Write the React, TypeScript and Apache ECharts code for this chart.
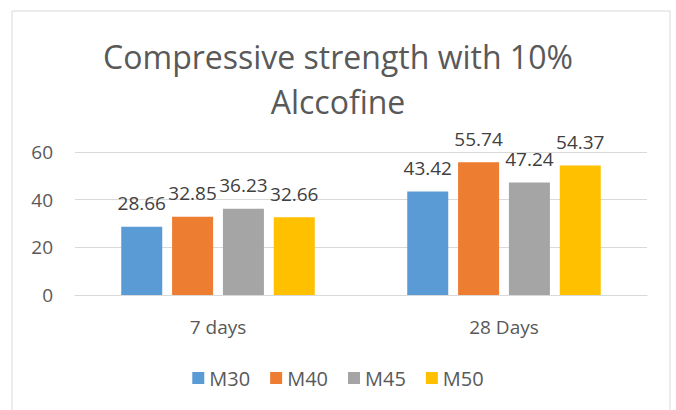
import React, { useEffect, useRef } from "react";
import * as echarts from "echarts";

const categories = ["7 days", "28 Days"];
const seriesNames = ["M30", "M40", "M45", "M50"];
const m30 = [28.66, 43.42];
const m40 = [32.85, 55.74];
const m45 = [36.23, 47.24];
const m50 = [32.66, 54.37];
const seriesValues = [m30, m40, m45, m50];
const colors = ["#5B9BD5", "#ED7D31", "#A5A5A5", "#FFC000"];
const yTicks = { min: 0, max: 60, interval: 20 };

const FONT = "'Open Sans', 'Noto Sans', sans-serif";
const TEXT = "#595959";

export default function App() {
  const ref = useRef<HTMLDivElement>(null);
  useEffect(() => {
    if (!ref.current) return;
    const chart = echarts.init(ref.current, undefined, { renderer: "svg" });
    chart.setOption({
      animation: false,
      backgroundColor: "#ffffff",
      textStyle: { fontFamily: FONT },
      graphic: [
        {
          type: "rect",
          shape: { x: 12, y: 11, width: 658, height: 410 },
          style: { fill: "none", stroke: "#d9d9d9", lineWidth: 1 },
          silent: true,
        },
      ],
      title: {
        text: "Compressive strength with 10%\nAlccofine",
        left: "center",
        top: 29,
        textStyle: {
          fontFamily: FONT,
          fontSize: 32,
          fontWeight: "normal",
          color: TEXT,
          lineHeight: 45,
        },
      },
      legend: {
        data: seriesNames,
        bottom: 17,
        left: "center",
        icon: "rect",
        itemWidth: 12,
        itemHeight: 12,
        itemGap: 20,
        textStyle: { fontFamily: FONT, fontSize: 20, color: TEXT },
      },
      grid: { left: 75, right: 29, top: 152, bottom: 115 },
      xAxis: {
        type: "category",
        data: categories,
        axisLine: { lineStyle: { color: "#d9d9d9" } },
        axisTick: { show: false },
        axisLabel: { fontFamily: FONT, fontSize: 19, color: TEXT, margin: 22 },
      },
      yAxis: {
        type: "value",
        min: yTicks.min,
        max: yTicks.max,
        interval: yTicks.interval,
        axisLine: { show: false },
        axisTick: { show: false },
        splitLine: { lineStyle: { color: "#d9d9d9" } },
        axisLabel: { fontFamily: FONT, fontSize: 19, color: TEXT, margin: 22 },
      },
      series: seriesNames.map((name, i) => ({
        name,
        type: "bar",
        data: seriesValues[i],
        barWidth: 41,
        barGap: "24%",
        itemStyle: { color: colors[i] },
        label: {
          show: true,
          position: "top",
          distance: 14,
          fontFamily: FONT,
          fontSize: 19,
          color: "#404040",
        },
      })),
    });
    return () => chart.dispose();
  }, []);
  return (
    <div
      ref={ref}
      style={{ position: "absolute", left: 0, top: 0, width: 676, height: 410 }}
    />
  );
}
